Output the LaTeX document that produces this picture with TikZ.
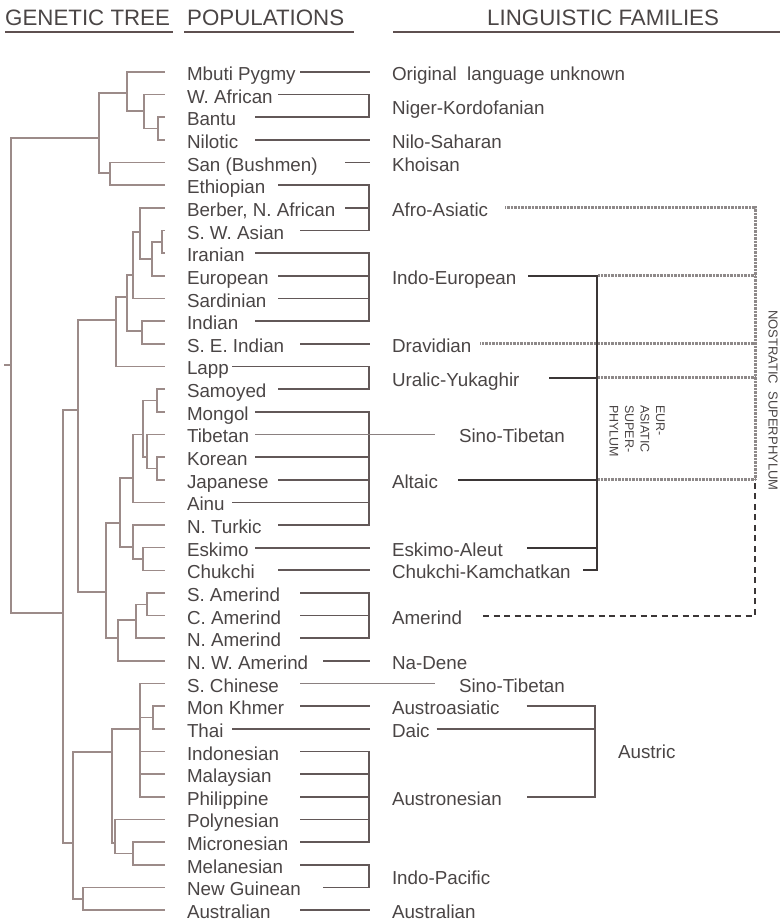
\documentclass[tikz,border=0pt]{standalone}
\usepackage{fontspec}
\setmainfont{Liberation Sans}
\usepackage{tikz}
\usetikzlibrary{positioning, calc}
\definecolor{ink}{HTML}{4A4545}
\definecolor{treeLn}{HTML}{9C8B89}
\definecolor{linkLn}{HTML}{625858}
\definecolor{stLn}{HTML}{8A8080}
\definecolor{eurLn}{HTML}{3B3636}
\definecolor{nostLn}{HTML}{8E8989}
\definecolor{hdrLn}{HTML}{5E5050}

\begin{document}
\begin{tikzpicture}[x=1pt, y=-1pt,
pop/.style={anchor=west, inner xsep=0pt, inner ysep=0pt, outer sep=0pt, minimum height=22.65pt, text height=19.5pt, text depth=2.5pt, font=\fontsize{18.8}{20}\selectfont, text=ink},
fam/.style={pop},
hdr/.style={anchor=base west, inner sep=0pt, font=\fontsize{22.3}{24}\selectfont, text=ink},
tag/.style={inner sep=0pt, text=ink, align=left, rotate=-90, anchor=west},
tree/.style={draw=treeLn, line width=1.6pt},
el/.style={to path={|- (\tikztotarget)}},
lf/.style={el, shorten >=22pt},
link/.style={draw=linkLn, line width=1.7pt},
tofam/.style={link, shorten >=22pt},
stlink/.style={draw=stLn, line width=1.2pt, shorten >=24pt},
eur/.style={draw=eurLn, line width=2.3pt},
nost/.style={draw=nostLn, line width=3pt, dash pattern=on 0.7pt off 0.7pt},
dashln/.style={draw=eurLn, line width=1.9pt, dash pattern=on 6pt off 4.5pt},
uline/.style={draw=hdrLn, line width=2.6pt}]
\useasboundingbox (0,0) rectangle (780,923);
\node[hdr] (gtree) at (5,26) {GENETIC TREE};
\node[hdr] (pophdr) at (187,26) {POPULATIONS};
\node[hdr] (famhdr) at (487,26) {LINGUISTIC FAMILIES};
\draw[uline] (5,32) -- (173,32);
\draw[uline] (184,32) -- (354,32);
\draw[uline] (393,32) -- (780,32);
\node[pop] (mbuti) at (187,72) {Mbuti Pygmy};
\node[pop, below=0pt of mbuti.south west, anchor=north west] (wafr) {W. African};
\node[pop, below=0pt of wafr.south west, anchor=north west] (bantu) {Bantu};
\node[pop, below=0pt of bantu.south west, anchor=north west] (nilotic) {Nilotic};
\node[pop, below=0pt of nilotic.south west, anchor=north west] (san) {San (Bushmen)};
\node[pop, below=0pt of san.south west, anchor=north west] (ethiop) {Ethiopian};
\node[pop, below=0pt of ethiop.south west, anchor=north west] (berber) {Berber, N. African};
\node[pop, below=0pt of berber.south west, anchor=north west] (swasian) {S. W. Asian};
\node[pop, below=0pt of swasian.south west, anchor=north west] (iranian) {Iranian};
\node[pop, below=0pt of iranian.south west, anchor=north west] (europ) {European};
\node[pop, below=0pt of europ.south west, anchor=north west] (sardin) {Sardinian};
\node[pop, below=0pt of sardin.south west, anchor=north west] (indian) {Indian};
\node[pop, below=0pt of indian.south west, anchor=north west] (seindian) {S. E. Indian};
\node[pop, below=0pt of seindian.south west, anchor=north west] (lapp) {Lapp};
\node[pop, below=0pt of lapp.south west, anchor=north west] (samoyed) {Samoyed};
\node[pop, below=0pt of samoyed.south west, anchor=north west] (mongol) {Mongol};
\node[pop, below=0pt of mongol.south west, anchor=north west] (tibetan) {Tibetan};
\node[pop, below=0pt of tibetan.south west, anchor=north west] (korean) {Korean};
\node[pop, below=0pt of korean.south west, anchor=north west] (japanese) {Japanese};
\node[pop, below=0pt of japanese.south west, anchor=north west] (ainu) {Ainu};
\node[pop, below=0pt of ainu.south west, anchor=north west] (nturkic) {N. Turkic};
\node[pop, below=0pt of nturkic.south west, anchor=north west] (eskimo) {Eskimo};
\node[pop, below=0pt of eskimo.south west, anchor=north west] (chukchi) {Chukchi};
\node[pop, below=0pt of chukchi.south west, anchor=north west] (samer) {S. Amerind};
\node[pop, below=0pt of samer.south west, anchor=north west] (camer) {C. Amerind};
\node[pop, below=0pt of camer.south west, anchor=north west] (namer) {N. Amerind};
\node[pop, below=0pt of namer.south west, anchor=north west] (nwamer) {N. W. Amerind};
\node[pop, below=0pt of nwamer.south west, anchor=north west] (schinese) {S. Chinese};
\node[pop, below=0pt of schinese.south west, anchor=north west] (monkhmer) {Mon Khmer};
\node[pop, below=0pt of monkhmer.south west, anchor=north west] (thai) {Thai};
\node[pop, below=0pt of thai.south west, anchor=north west] (indones) {Indonesian};
\node[pop, below=0pt of indones.south west, anchor=north west] (malays) {Malaysian};
\node[pop, below=0pt of malays.south west, anchor=north west] (philip) {Philippine};
\node[pop, below=0pt of philip.south west, anchor=north west] (polynes) {Polynesian};
\node[pop, below=0pt of polynes.south west, anchor=north west] (micron) {Micronesian};
\node[pop, below=0pt of micron.south west, anchor=north west] (melanes) {Melanesian};
\node[pop, below=0pt of melanes.south west, anchor=north west] (newguin) {New Guinean};
\node[pop, below=0pt of newguin.south west, anchor=north west] (austral) {Australian};
\coordinate (fx) at (392,0);
\coordinate (sx) at (459,0);
\node[fam] (orig) at (fx |- mbuti) {Original~ language unknown};
\node[fam] (nigerk) at ($(fx |- wafr)!.5!(fx |- bantu)$) {Niger-Kordofanian};
\node[fam] (nilosah) at (fx |- nilotic) {Nilo-Saharan};
\node[fam] (khoisan) at (fx |- san) {Khoisan};
\node[fam] (afroas) at (fx |- berber) {Afro-Asiatic};
\node[fam] (indoeur) at (fx |- europ) {Indo-European};
\node[fam] (dravid) at (fx |- seindian) {Dravidian};
\node[fam] (uralic) at ($(fx |- lapp)!.5!(fx |- samoyed)$) {Uralic-Yukaghir};
\node[fam] (sinotibA) at (sx |- tibetan) {Sino-Tibetan};
\node[fam] (altaic) at (fx |- japanese) {Altaic};
\node[fam] (eskal) at (fx |- eskimo) {Eskimo-Aleut};
\node[fam] (chukk) at (fx |- chukchi) {Chukchi-Kamchatkan};
\node[fam] (amerind) at (fx |- camer) {Amerind};
\node[fam] (nadene) at (fx |- nwamer) {Na-Dene};
\node[fam] (sinotibB) at (sx |- schinese) {Sino-Tibetan};
\node[fam] (austroas) at (fx |- monkhmer) {Austroasiatic};
\node[fam] (daic) at (fx |- thai) {Daic};
\node[fam] (austron) at (fx |- philip) {Austronesian};
\node[fam] (indopac) at ($(fx |- melanes)!.5!(fx |- newguin)$) {Indo-Pacific};
\node[fam] (australfam) at (fx |- austral) {Australian};
\node[fam] (austric) at (618,750) {Austric};
\node[tag, font=\fontsize{12.5}{15.5}\selectfont] (eurlbl) at (637,405) {EUR-\\ASIATIC\\SUPER-\\PHYLUM};
\node[tag, font=\fontsize{13}{15}\selectfont] (nostlbl) at (773,310) {NOSTRATIC~~SUPERPHYLUM};
\coordinate (rootStub) at (4,365);
\coordinate (root) at (11,365);
\coordinate (jAf) at (99,138);
\coordinate (jMb) at (127,93);
\coordinate (jWa) at (144,111);
\coordinate (jBn) at (158,128.6);
\coordinate (jSe) at (110,173);
\coordinate (jRest) at (63,613);
\coordinate (jEu) at (78,410);
\coordinate (jLa) at (116,320);
\coordinate (jWe) at (127,297);
\coordinate (jSa) at (133,275);
\coordinate (jBe) at (140,232);
\coordinate (jIe) at (152,259);
\coordinate (jSi) at (162,242);
\coordinate (jIn) at (142,331);
\coordinate (jNe) at (106,592);
\coordinate (jAs) at (120,523);
\coordinate (jAi) at (133,478);
\coordinate (jMo) at (143,434.4);
\coordinate (jSm) at (157,400.4);
\coordinate (jTk) at (147,457);
\coordinate (jKj) at (157,468.4);
\coordinate (jNt) at (133,547);
\coordinate (jEc) at (143,559);
\coordinate (jAm) at (118,638);
\coordinate (jNa) at (136,620);
\coordinate (jSc) at (147,604.3);
\coordinate (jPa) at (73,843);
\coordinate (jAu) at (112,752);
\coordinate (jSch) at (140,729);
\coordinate (jMt) at (153,717.5);
\coordinate (jPo) at (115,843);
\coordinate (jMm) at (133,853.4);
\coordinate (jNg) at (83,898.7);
\draw[tree] (rootStub) -- (root);
\draw[tree] (root) edge[el] (jAf) edge[el] (jRest);
\draw[tree] (jAf) edge[el] (jMb) edge[el] (jSe);
\draw[tree] (jMb) edge[lf] (mbuti.west) edge[el] (jWa);
\draw[tree] (jWa) edge[lf] (wafr.west) edge[el] (jBn);
\draw[tree] (jBn) edge[lf] (bantu.west) edge[lf] (nilotic.west);
\draw[tree] (jSe) edge[lf] (san.west) edge[lf] (ethiop.west);
\draw[tree] (jRest) edge[el] (jEu) edge[el] (jPa);
\draw[tree] (jEu) edge[el] (jLa) edge[el] (jNe);
\draw[tree] (jLa) edge[el] (jWe) edge[lf] (lapp.west);
\draw[tree] (jWe) edge[el] (jSa) edge[el] (jIn);
\draw[tree] (jSa) edge[el] (jBe) edge[lf] (sardin.west);
\draw[tree] (jBe) edge[lf] (berber.west) edge[el] (jIe);
\draw[tree] (jIe) edge[el] (jSi) edge[lf] (europ.west);
\draw[tree] (jSi) edge[lf] (swasian.west) edge[lf] (iranian.west);
\draw[tree] (jIn) edge[lf] (indian.west) edge[lf] (seindian.west);
\draw[tree] (jNe) edge[el] (jAs) edge[el] (jAm);
\draw[tree] (jAs) edge[el] (jAi) edge[el] (jNt);
\draw[tree] (jAi) edge[el] (jMo) edge[lf] (ainu.west);
\draw[tree] (jMo) edge[el] (jSm) edge[el] (jTk);
\draw[tree] (jSm) edge[lf] (samoyed.west) edge[lf] (mongol.west);
\draw[tree] (jTk) edge[lf] (tibetan.west) edge[el] (jKj);
\draw[tree] (jKj) edge[lf] (korean.west) edge[lf] (japanese.west);
\draw[tree] (jNt) edge[lf] (nturkic.west) edge[el] (jEc);
\draw[tree] (jEc) edge[lf] (eskimo.west) edge[lf] (chukchi.west);
\draw[tree] (jAm) edge[el] (jNa) edge[lf] (nwamer.west);
\draw[tree] (jNa) edge[el] (jSc) edge[lf] (namer.west);
\draw[tree] (jSc) edge[lf] (samer.west) edge[lf] (camer.west);
\draw[tree] (jPa) edge[el] (jAu) edge[el] (jNg);
\draw[tree] (jAu) edge[el] (jSch) edge[el] (jPo);
\draw[tree] (jSch) edge[lf] (schinese.west) edge[el] (jMt) edge[lf] (indones.west) edge[lf] (malays.west) edge[lf] (philip.west);
\draw[tree] (jMt) edge[lf] (monkhmer.west) edge[lf] (thai.west);
\draw[tree] (jPo) edge[lf] (polynes.west) edge[el] (jMm);
\draw[tree] (jMm) edge[lf] (micron.west) edge[lf] (melanes.west);
\draw[tree] (jNg) edge[lf] (newguin.west) edge[lf] (austral.west);
\coordinate (t1) at (232,0);
\coordinate (t2) at (255,0);
\coordinate (t3) at (278,0);
\coordinate (t4) at (300,0);
\coordinate (t5) at (323,0);
\coordinate (t6) at (345,0);
\coordinate (bx) at (369,0);
\draw[tofam] (mbuti -| t4) -- (orig.west);
\draw[link] (wafr -| t3) -| (bx |- bantu) -- (bantu -| t2);
\draw[tofam] (nilotic -| t2) -- (nilosah.west);
\draw[tofam] (san -| t6) -- (khoisan.west);
\draw[link] (ethiop -| t3) -| (bx |- swasian) -- (swasian -| t4);
\draw[link] (berber -| t6) -- (bx |- berber);
\draw[link] (iranian -| t2) -| (bx |- indian) -- (indian -| t2);
\draw[link] (europ -| t3) -- (bx |- europ);
\draw[link] (sardin -| t3) -- (bx |- sardin);
\draw[tofam] (seindian -| t4) -- (dravid.west);
\draw[link] (lapp -| t1) -| (bx |- samoyed) -- (samoyed -| t3);
\draw[link] (mongol -| t2) -| (bx |- nturkic) -- (nturkic -| t3);
\draw[link] (korean -| t2) -- (bx |- korean);
\draw[link] (japanese -| t3) -- (bx |- japanese);
\draw[link] (ainu -| t1) -- (bx |- ainu);
\draw[stlink] (tibetan -| t2) -- (sinotibA.west);
\draw[tofam] (eskimo -| t2) -- (eskal.west);
\draw[tofam] (chukchi -| t3) -- (chukk.west);
\draw[link] (samer -| t4) -| (bx |- namer) -- (namer -| t4);
\draw[link] (camer -| t4) -- (bx |- camer);
\draw[tofam] (nwamer -| t5) -- (nadene.west);
\draw[stlink] (schinese -| t4) -- (sinotibB.west);
\draw[tofam] (monkhmer -| t4) -- (austroas.west);
\draw[tofam] (thai -| t1) -- (daic.west);
\draw[link] (indones -| t4) -| (bx |- micron) -- (micron -| t4);
\draw[link] (malays -| t4) -- (bx |- malays);
\draw[link] (philip -| t4) -- (bx |- philip);
\draw[link] (polynes -| t4) -- (bx |- polynes);
\draw[link] (melanes -| t4) -| (bx |- newguin) -- (newguin -| t5);
\draw[tofam] (austral -| t4) -- (australfam.west);
\coordinate (ea) at (597,0);
\coordinate (nx) at (755,0);
\coordinate (ax) at (595,0);
\draw[nost, shorten <=17pt] (afroas.east) -| (nx |- altaic);
\draw[nost, shorten <=1pt] (ea |- indoeur) -- (nx |- indoeur);
\draw[nost, shorten <=9pt] (dravid.east) -- (nx |- dravid);
\draw[nost, shorten <=1pt] (ea |- uralic) -- (nx |- uralic);
\draw[nost, shorten <=1pt] (ea |- altaic) -- (nx |- altaic);
\draw[dashln, shorten <=21pt] (amerind.east) -| (nx |- altaic);
\draw[eur, shorten <=12pt, shorten >=12pt] (indoeur.east) -| (ea |- chukk) -- (chukk.east);
\draw[eur, shorten <=30pt] (uralic.east) -- (ea |- uralic);
\draw[eur, shorten <=20pt] (altaic.east) -- (ea |- altaic);
\draw[eur, shorten <=24pt] (eskal.east) -- (ea |- eskal);
\draw[link, shorten <=27pt, shorten >=25pt] (austroas.east) -| (ax |- austron) -- (austron.east);
\draw[link, shorten <=7pt] (daic.east) -- (ax |- daic);
\end{tikzpicture}
\end{document}
